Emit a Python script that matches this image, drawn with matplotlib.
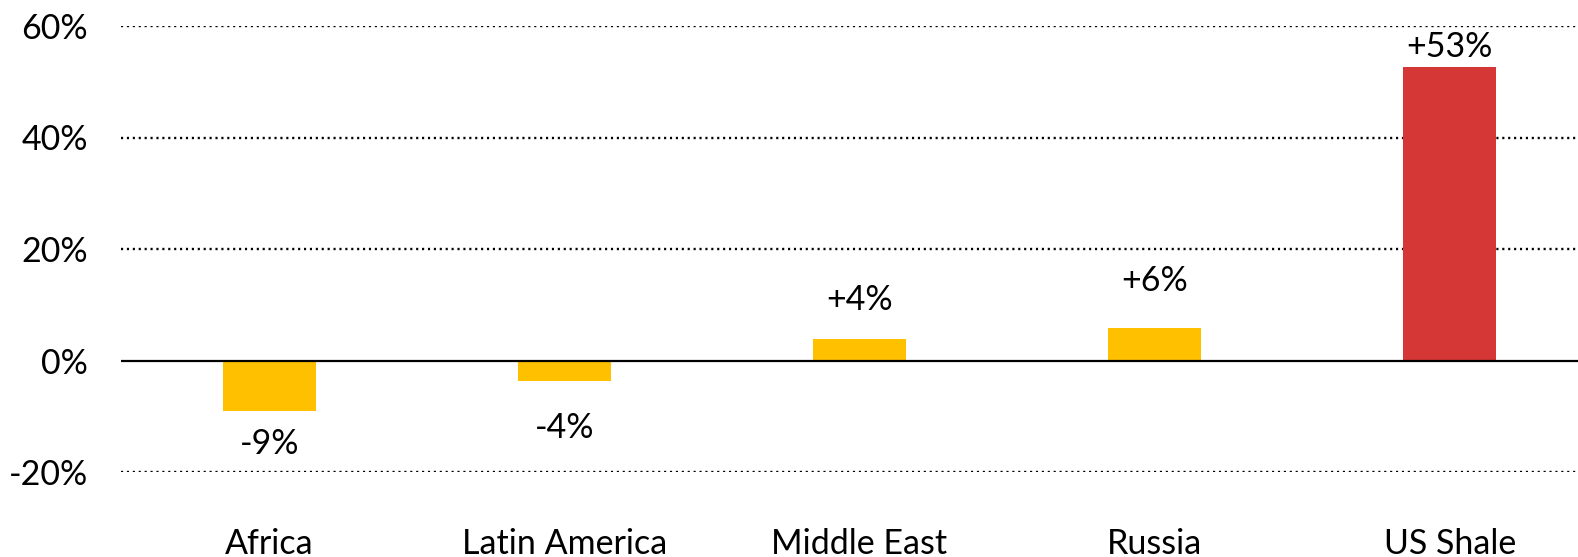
import matplotlib.pyplot as plt

# production change by region
regions = ["Africa", "Latin America", "Middle East", "Russia", "US Shale"]
change_pct = [-9.0, -3.6, 3.8, 5.9, 52.7]
bar_colors = ["#FFC000", "#FFC000", "#FFC000", "#FFC000", "#D43735"]
y_ticks = [-20, 0, 20, 40, 60]

# label distance from bar end, in pixels
label_gap = [33, 47, 39, 47, 20]

plt.rcParams['font.family'] = ['Lato', 'DejaVu Sans']
FS = 24.5

fig = plt.figure(figsize=(15.78, 5.57), dpi=100)
ax = fig.add_axes([121 / 1578, 85 / 557, 1 - 121 / 1578, 446 / 557])

x = list(range(len(regions)))
ax.bar(x, change_pct, width=0.315, color=bar_colors, zorder=3)

for xi, v, gap in zip(x, change_pct, label_gap):
    sign = 1 if v >= 0 else -1
    ax.annotate(f"{v:+.0f}%", (xi, v), xytext=(0, sign * gap),
                textcoords="offset pixels", ha="center", va="center",
                fontsize=FS, color="black")

ax.set_xlim(-0.503, 4.435)
ax.set_ylim(-20, 60)
ax.set_yticks(y_ticks)
ax.set_yticklabels([f"{t}%" for t in y_ticks])
ax.set_xticks(x)
ax.set_xticklabels(regions)

for t in y_ticks:
    if t == 0:
        ax.axhline(0, color="black", linewidth=1.6, zorder=4)
    else:
        ax.axhline(t, color="black", linewidth=1.7, linestyle=(0, (0.9, 1.6)), zorder=1)

for s in ax.spines.values():
    s.set_visible(False)
ax.tick_params(axis="both", length=0, labelsize=FS, colors="black")
ax.tick_params(axis="y", pad=24)
ax.tick_params(axis="x", pad=40)

fig.savefig("out.png", dpi=100)
